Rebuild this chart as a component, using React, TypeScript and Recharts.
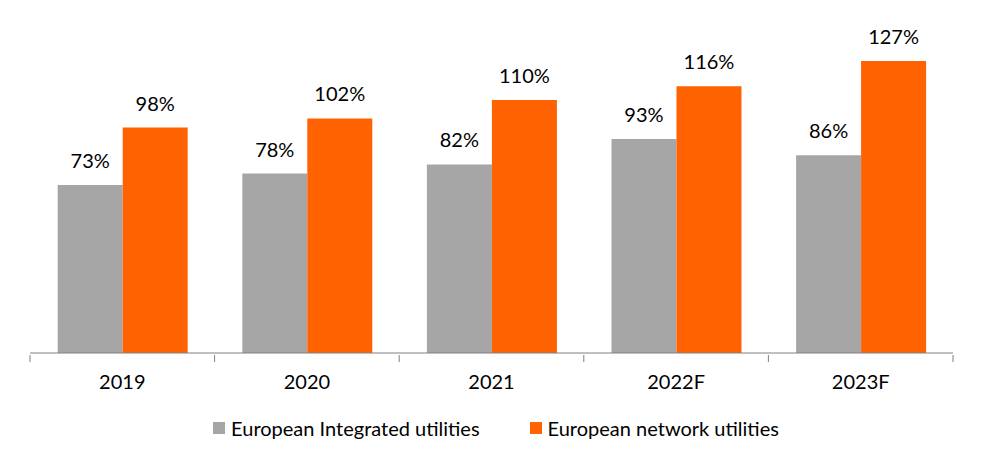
import React from 'react';
import { BarChart, Bar, XAxis, YAxis, Legend, LabelList } from 'recharts';

const categories = ['2019', '2020', '2021', '2022F', '2023F'];
const integrated = [73, 78, 82, 93, 86];
const network = [98, 102, 110, 116, 127];
const seriesNames = ['European Integrated utilities', 'European network utilities'];
const colors = ['#A6A6A6', '#FF6200'];

const data = categories.map((c, i) => ({ cat: c, integrated: integrated[i], network: network[i] }));

const FONT = 'Lato, sans-serif';
const AXIS_COLOR = '#808080';

const CatTick = (props: any) => {
  const { x, y, payload, index, visibleTicksCount } = props;
  const half = payload.offset || 0;
  const isLast = index === (visibleTicksCount ?? categories.length) - 1;
  return (
    <g>
      <line x1={x - half} x2={x - half} y1={y} y2={y + 7} stroke={AXIS_COLOR} />
      {isLast && <line x1={x + half} x2={x + half} y1={y} y2={y + 7} stroke={AXIS_COLOR} />}
      <text x={x} y={y + 34} textAnchor="middle" fontFamily={FONT} fontSize={20} fill="#000">
        {payload.value}
      </text>
    </g>
  );
};

const renderLegend = () => (
  <div
    style={{
      display: 'flex',
      justifyContent: 'center',
      fontFamily: FONT,
      fontSize: 20,
      color: '#000',
      height: 69,
      boxSizing: 'border-box',
      paddingTop: 18,
      paddingLeft: 9,
    }}
  >
    {seriesNames.map((n, i) => (
      <div key={n} style={{ display: 'flex', alignItems: 'center', height: 24, marginRight: i === 0 ? 50 : 0 }}>
        <span style={{ width: 12, height: 12, background: colors[i], display: 'inline-block', marginRight: 6 }} />
        <span>{n}</span>
      </div>
    ))}
  </div>
);

export default function App() {
  return (
    <div style={{ position: 'absolute', left: 0, top: 0, width: 983, height: 467, background: '#fff' }}>
      <BarChart
        width={983}
        height={467}
        data={data}
        margin={{ top: 31, right: 30, left: 30, bottom: 0 }}
        barCategoryGap="15%"
        barGap={0}
      >
        <XAxis
          dataKey="cat"
          height={45}
          axisLine={{ stroke: AXIS_COLOR }}
          tickLine={false}
          tickSize={0}
          tick={<CatTick />}
          interval={0}
        />
        <YAxis hide domain={[0, 140]} />
        <Legend verticalAlign="bottom" height={69} content={renderLegend} />
        <Bar dataKey="integrated" name={seriesNames[0]} fill={colors[0]} isAnimationActive={false}>
          <LabelList dataKey="integrated" position="top" offset={17} formatter={(v: number) => `${v}%`} style={{ fontFamily: FONT, fontSize: 20, fill: '#000' }} />
        </Bar>
        <Bar dataKey="network" name={seriesNames[1]} fill={colors[1]} isAnimationActive={false}>
          <LabelList dataKey="network" position="top" offset={17} formatter={(v: number) => `${v}%`} style={{ fontFamily: FONT, fontSize: 20, fill: '#000' }} />
        </Bar>
      </BarChart>
    </div>
  );
}
